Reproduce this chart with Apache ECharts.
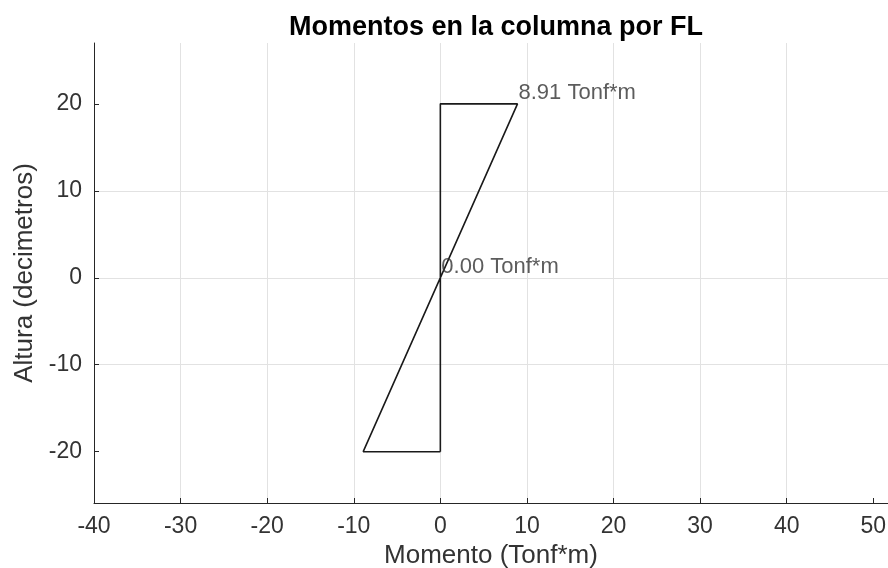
<!DOCTYPE html>
<html>
<head>
<meta charset="utf-8">
<script src="https://cdn.jsdelivr.net/npm/echarts@6/dist/echarts.min.js"></script>
<style>html,body{margin:0;padding:0;background:#fff}#c{width:888px;height:568px}</style>
</head>
<body>
<div id="c"></div>
<script>
const momentX = [0, 0, 8.91, -8.91, 0];
const alturaY = [-20, 20, 20, -20, -20];
const labelX = [8.91, 0];
const labelY = [20, 0];
const labelText = ['8.91 Tonf*m', '0.00 Tonf*m'];
const xTicks = [-40, -30, -20, -10, 0, 10, 20, 30, 40, 50];
const yTicks = [-20, -10, 0, 10, 20];

const font = 'Liberation Sans, Arial, sans-serif';
const chart = echarts.init(document.getElementById('c'));
const lineData = momentX.map((x, i) => [x, alturaY[i]]);
const labData = labelX.map((x, i) => [x, labelY[i], labelText[i]]);
const gridStyle = {color: '#e2e2e2', width: 1};
chart.setOption({
  animation: false,
  title: {
    text: 'Momentos en la columna por FL',
    left: 491, top: 9, textAlign: 'center',
    textStyle: {fontFamily: font, fontSize: 27, fontWeight: 'bold', color: '#000'}
  },
  grid: {left: 94, top: 43, right: 0, bottom: 65, containLabel: false, outerBoundsMode: 'none'},
  xAxis: {
    type: 'value', min: -40, max: 51.7,
    name: 'Momento (Tonf*m)', nameLocation: 'middle', nameGap: 37,
    nameTextStyle: {fontFamily: font, fontSize: 26, color: '#333'},
    axisLine: {show: true, onZero: false, lineStyle: {color: '#262626', width: 1}},
    axisTick: {show: true, inside: true, length: 5, customValues: xTicks, lineStyle: {color: '#262626'}},
    axisLabel: {fontFamily: font, fontSize: 23, color: '#333', margin: 12, customValues: xTicks},
    splitLine: {show: true, showMinLine: false, showMaxLine: false, lineStyle: gridStyle}
  },
  yAxis: {
    type: 'value', min: -25.9, max: 27.0,
    name: 'Altura (decimetros)', nameLocation: 'middle', nameGap: 51,
    nameTextStyle: {fontFamily: font, fontSize: 26, color: '#333'},
    axisLine: {show: true, onZero: false, lineStyle: {color: '#262626', width: 1}},
    axisTick: {show: true, inside: true, length: 5, customValues: yTicks, lineStyle: {color: '#262626'}},
    axisLabel: {fontFamily: font, fontSize: 23, color: '#333', margin: 12, customValues: yTicks},
    splitLine: {show: true, showMinLine: false, showMaxLine: false, lineStyle: gridStyle}
  },
  series: [
    {
      type: 'line', data: lineData, showSymbol: false, symbol: 'none',
      lineStyle: {color: '#1a1a1a', width: 1.6}, z: 3
    },
    {
      type: 'scatter', data: labData, symbolSize: 0, z: 4,
      label: {show: true, position: 'right', distance: 0, offset: [1, -10.5],
        formatter: p => p.data[2],
        fontFamily: font, fontSize: 22, color: '#333'}
    }
  ]
});
</script>
</body>
</html>
